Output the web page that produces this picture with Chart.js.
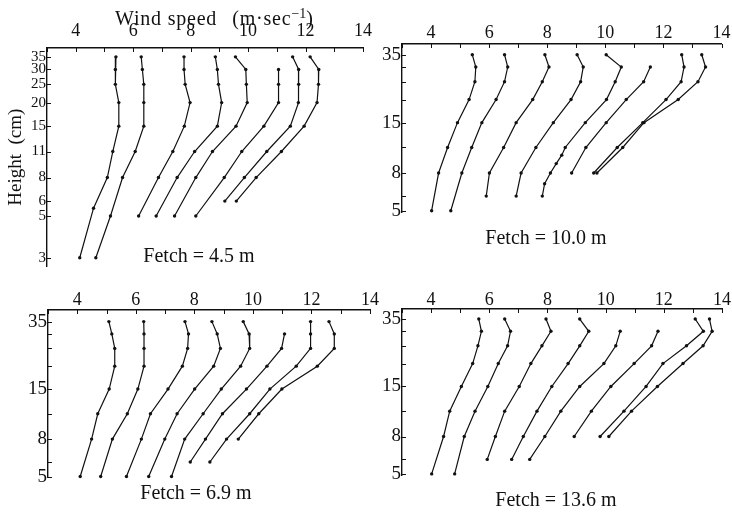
<!DOCTYPE html>
<html>
<head>
<meta charset="utf-8">
<script src="https://cdn.jsdelivr.net/npm/chart.js@4"></script>
<style>
  body { margin: 0; background: #fff; }
  #wrap { position: relative; width: 732px; height: 516px; overflow: hidden; font-family: 'Liberation Serif', 'DejaVu Serif', serif; color: #111; }
  canvas { position: absolute; }
  .lbl { position: absolute; font-size: 20px; line-height: 20px; white-space: nowrap; transform: translate(-50%, -50%); }
  #wind { position: absolute; left: 115px; top: 16px; font-size: 20px; line-height: 20px; white-space: nowrap; transform: translateY(-50%); letter-spacing: 0.8px; }
  #wind sup { font-size: 14px; vertical-align: 7px; letter-spacing: 0; }
</style>
</head>
<body>
<div id="wrap">
  <canvas id="c45" width="380" height="280" style="left:0;top:0"></canvas>
  <canvas id="c100" width="362" height="226" style="left:370px;top:0"></canvas>
  <canvas id="c69" width="380" height="222" style="left:0;top:270px"></canvas>
  <canvas id="c136" width="362" height="220" style="left:370px;top:270px"></canvas>
  <div id="wind">Wind speed<span style="margin-left:15px">(m·sec<sup>−1</sup>)</span></div>
  <div class="lbl" style="left:199px;top:255px">Fetch = 4.5 m</div>
  <div class="lbl" style="left:546px;top:237px">Fetch = 10.0 m</div>
  <div class="lbl" style="left:196px;top:492px">Fetch = 6.9 m</div>
  <div class="lbl" style="left:556px;top:499px">Fetch = 13.6 m</div>
</div>
<script>
// heights (cm) where the profiles were read, one array per fetch
const heights45 = [35, 30, 25, 20, 15, 11, 8, 6, 5.5, 5, 3]
const heights100 = [35, 30, 25, 20, 15, 11, 10, 9, 8, 7, 6, 5]
const heights69 = [35, 30, 25, 20, 15, 11, 8, 6, 5]
const heights136 = [35, 30, 25, 20, 15, 11, 8, 6, 5]

// wind speed (m/sec) per profile, aligned with the heights above
const speeds45 = [
  [5.40, 5.38, 5.38, 5.50, 5.50, 5.29, 5.10, null, 4.62, null, 4.14],
  [6.28, 6.32, 6.37, 6.37, 6.37, 6.07, 5.63, null, null, 5.21, 4.70],
  [7.77, 7.77, 7.81, 7.98, 7.78, 7.38, 6.88, null, null, 6.19, null],
  [8.86, 8.93, 8.97, 9.08, 8.93, 8.14, 7.53, null, null, 6.80, null],
  [9.56, 9.92, 9.94, 9.97, 9.58, 8.76, 8.18, null, null, 7.44, null],
  [null, 11.06, 11.06, 11.06, 10.55, 9.78, 9.17, null, null, 8.18, null],
  [11.55, 11.76, 11.76, 11.75, 11.47, 10.65, 9.87, 9.19, null, null, null],
  [12.16, 12.46, 12.45, 12.40, 11.95, 11.16, 10.28, 9.59, null, null, null],
]
const speeds100 = [
  [5.42, 5.54, 5.51, 5.31, 4.91, 4.57, null, null, 4.26, null, null, 4.02],
  [6.53, 6.64, 6.53, 6.24, 5.75, 5.40, null, null, 5.06, null, null, 4.68],
  [7.92, 8.06, 7.83, 7.50, 6.93, 6.50, null, null, 6.01, null, 5.90, null],
  [9.03, 9.24, 9.15, 8.82, 8.21, 7.61, null, null, 7.10, null, 6.93, null],
  [10.03, 10.55, 10.34, 10.04, 9.31, 8.62, 8.50, 8.31, 8.11, 7.91, 7.83, null],
  [null, 11.55, 11.32, 10.72, 10.03, 9.33, null, null, 8.84, null, null, null],
  [12.63, 12.71, 12.61, 12.09, 11.29, 10.41, null, null, 9.60, null, null, null],
  [13.32, 13.45, 13.19, 12.51, 11.33, 10.60, null, null, 9.71, null, null, null],
]
const speeds69 = [
  [5.08, 5.18, 5.28, 5.28, 5.09, 4.70, 4.49, null, 4.10],
  [6.27, 6.28, 6.28, 6.28, 6.07, 5.71, 5.20, null, 4.80],
  [7.68, 7.80, 7.77, 7.59, 7.10, 6.50, 6.19, null, 5.68],
  [8.60, 8.78, 8.89, 8.66, 8.01, 7.41, 6.99, null, 6.44],
  [9.67, 9.87, 9.89, 9.58, 8.92, 8.30, 7.67, null, 7.22],
  [null, 11.08, 10.98, 10.48, 9.78, 8.96, 8.38, 7.86, null],
  [11.97, 11.97, 11.97, 11.48, 10.58, 9.89, 9.10, 8.53, null],
  [12.60, 12.78, 12.78, 12.20, 10.99, 10.20, 9.50, null, null],
]
const speeds136 = [
  [5.64, 5.73, 5.61, 5.43, 5.04, 4.64, 4.43, null, 4.02],
  [6.53, 6.73, 6.63, 6.31, 5.95, 5.51, 5.14, null, 4.81],
  [7.95, 8.12, 7.81, 7.43, 7.03, 6.53, 6.21, 5.93, null],
  [9.11, 9.42, 9.11, 8.71, 8.15, 7.64, 7.17, 6.77, null],
  [null, 10.50, 10.35, 9.94, 9.11, 8.46, 7.91, 7.39, null],
  [null, 11.80, 11.58, 10.98, 10.18, 9.51, 8.92, null, null],
  [13.08, 13.36, 12.78, 11.97, 11.39, 10.63, 9.81, null, null],
  [13.57, 13.66, 13.35, 12.66, 11.78, 10.89, 10.11, null, null],
]

// axis ticks
const speedLabels = [4, 6, 8, 10, 12, 14]
const heightTicks45 = [35, 30, 25, 20, 15, 11, 8, 6, 5, 3]
const heightLabels45 = [35, 30, 25, 20, 15, 11, 8, 6, 5, 3]
const heightTicks = [35, 30, 25, 20, 15, 11, 8, 6, 5]
const heightLabels = [35, 15, 8, 5]

const INK = '#111'
Chart.defaults.font.family = "'Liberation Serif', 'DejaVu Serif', serif"
Chart.defaults.color = INK

// small ticks pointing into the plot, like the printed figure
const inwardTicks = {
  id: 'inwardTicks',
  afterDraw(chart) {
    const { ctx, chartArea: a, scales } = chart
    ctx.save()
    ctx.strokeStyle = INK
    ctx.lineWidth = 1
    ctx.beginPath()
    scales.x.ticks.forEach((t) => {
      const px = Math.round(scales.x.getPixelForValue(t.value)) + 0.5
      ctx.moveTo(px, a.top)
      ctx.lineTo(px, a.top + 4)
    })
    scales.y.ticks.forEach((t) => {
      const py = Math.round(scales.y.getPixelForValue(t.value)) + 0.5
      ctx.moveTo(a.left, py)
      ctx.lineTo(a.left + 4, py)
    })
    ctx.stroke()
    ctx.restore()
  },
}

function toPoints(speeds, heights) {
  return speeds
    .map((s, i) => (s == null ? null : { x: s, y: heights[i] }))
    .filter(Boolean)
}

function makePanel(id, cfg) {
  const datasets = cfg.speeds.map((row) => ({
    data: toPoints(row, cfg.heights),
    showLine: true,
    borderColor: INK,
    borderWidth: 1.2,
    pointRadius: 1.7,
    pointBackgroundColor: INK,
    pointBorderWidth: 0,
    tension: 0,
    clip: 6,
  }))

  return new Chart(document.getElementById(id), {
    type: 'scatter',
    data: { datasets },
    plugins: [inwardTicks],
    options: {
      responsive: false,
      animation: false,
      events: [],
      layout: { autoPadding: false, padding: cfg.padding },
      plugins: { legend: { display: false }, tooltip: { enabled: false } },
      scales: {
        x: {
          type: 'linear',
          position: 'top',
          min: 3,
          max: 14,
          grid: { display: false, drawTicks: false },
          border: { display: true, color: INK, width: 1.6 },
          ticks: {
            stepSize: 1,
            autoSkip: false,
            maxRotation: 0,
            padding: cfg.xPad,
            font: { size: 18, lineHeight: 1 },
            callback: (v) => (speedLabels.includes(v) ? String(v) : ''),
          },
          afterFit: (s) => { s.height = cfg.xHeight },
        },
        y: {
          type: 'logarithmic',
          min: cfg.yMin,
          max: cfg.yMax,
          grid: { display: false, drawTicks: false },
          border: { display: true, color: INK, width: 1.4 },
          title: cfg.yTitle
            ? { display: true, text: cfg.yTitle, font: { size: 19 }, padding: { top: 5, bottom: 0 } }
            : { display: false },
          afterBuildTicks: (s) => { s.ticks = cfg.yTicks.map((v) => ({ value: v })) },
          ticks: {
            autoSkip: false,
            padding: 1,
            font: { size: cfg.yFont, lineHeight: 1 },
            callback: (v) => (cfg.yLabels.includes(v) ? String(v) : ''),
          },
          afterFit: (s) => { s.width = cfg.yWidth },
        },
      },
    },
  })
}

makePanel('c45', {
  heights: heights45, speeds: speeds45,
  yTicks: heightTicks45, yLabels: heightLabels45,
  yMin: 2.7, yMax: 39, yFont: 15, yTitle: 'Height\u2002(cm)',
  xHeight: 48, yWidth: 47, xPad: 8,
  padding: { left: 0, right: 11, top: 0, bottom: 13.6 },
})
makePanel('c100', {
  heights: heights100, speeds: speeds100,
  yTicks: heightTicks, yLabels: heightLabels,
  yMin: 4.92, yMax: 40, yFont: 19,
  xHeight: 44, yWidth: 32, xPad: 1.5,
  padding: { left: 0, right: 9, top: 0, bottom: 14 },
})
makePanel('c69', {
  heights: heights69, speeds: speeds69,
  yTicks: heightTicks, yLabels: heightLabels,
  yMin: 4.92, yMax: 40.5, yFont: 19,
  xHeight: 40, yWidth: 48, xPad: 0.5,
  padding: { left: 0, right: 10, top: 0, bottom: 14.2 },
})
makePanel('c136', {
  heights: heights136, speeds: speeds136,
  yTicks: heightTicks, yLabels: heightLabels,
  yMin: 4.92, yMax: 39.7, yFont: 19,
  xHeight: 39, yWidth: 32, xPad: 0,
  padding: { left: 0, right: 10, top: 0, bottom: 14.8 },
})
</script>
</body>
</html>
